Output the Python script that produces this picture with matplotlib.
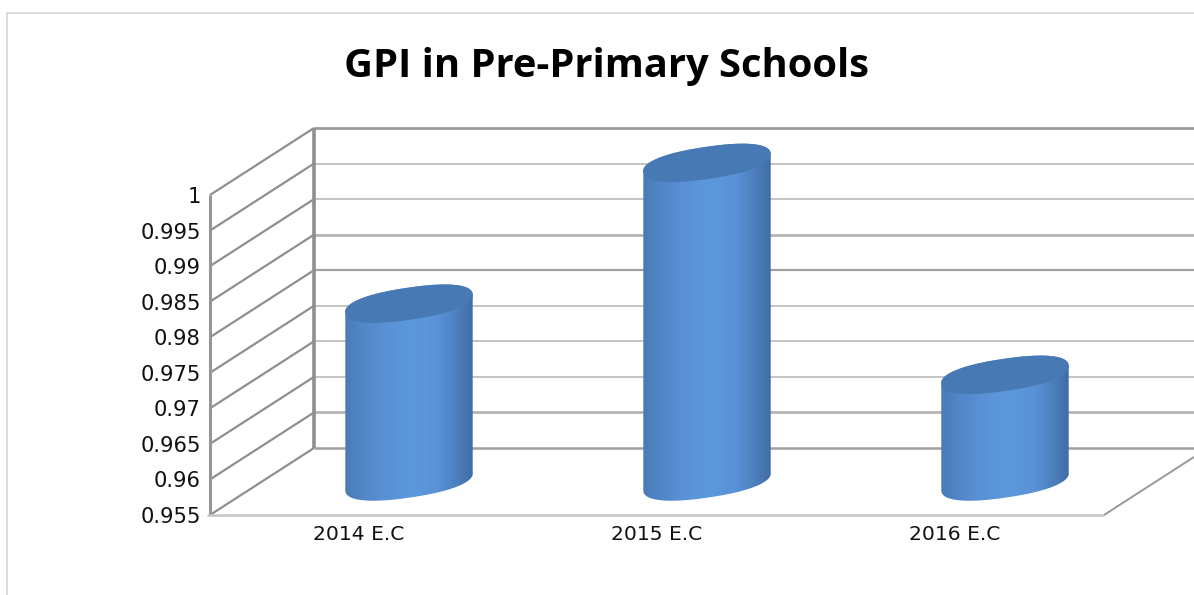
import numpy as np
import matplotlib
matplotlib.use("Agg")
import matplotlib.pyplot as plt
from matplotlib.colors import LinearSegmentedColormap
from matplotlib.lines import Line2D
from matplotlib.patches import PathPatch, Polygon, Rectangle
from matplotlib.path import Path
from matplotlib.transforms import IdentityTransform

categories = ["2014 E.C", "2015 E.C", "2016 E.C"]
values = [0.98, 0.9998, 0.97]
y_ticks = [0.955, 0.96, 0.965, 0.97, 0.975, 0.98, 0.985, 0.99, 0.995, 1.0]
y_labels = ["0.955", "0.96", "0.965", "0.97", "0.975", "0.98", "0.985", "0.99", "0.995", "1"]
title = "GPI in Pre-Primary Schools"

W, H = 1194, 595
DEPTH = (104, 67)
MID = (50, 33.5)
BAR_W = 128
ELL_B = 16.0
TILT = 8.5
SUPER = 0.86

fig = plt.figure(figsize=(W / 100, H / 100), dpi=100, facecolor="white")
ax = fig.add_axes([210 / W, (H - 515) / H, (1104 - 210) / W, 320 / H])
ax.set_xlim(-0.5, 2.5)
ax.set_ylim(y_ticks[0], y_ticks[-1])
ax.patch.set_visible(False)
for s in ax.spines.values():
    s.set_visible(False)
ax.set_yticks(y_ticks, y_labels)
ax.set_xticks(range(len(categories)), categories)
ax.tick_params(axis="y", length=0, pad=6.5, labelsize=15.2, labelcolor="#111111")
ax.tick_params(axis="x", length=0, pad=7.5, labelsize=14.6, labelcolor="#111111")
ax.set_autoscale_on(False)

ID = IdentityTransform()


def px(x, y):
    return ax.transData.transform((x, y))


def line(xs, ys, color, lw, z=1):
    ax.add_line(Line2D(xs, ys, color=color, lw=lw, transform=ID, clip_on=False,
                       zorder=z, solid_capstyle="butt"))


# outer chart border
fig.add_artist(Rectangle((7 / W, -0.01), 1.1, (H - 13) / H + 0.01, transform=fig.transFigure,
                         fc="none", ec="#dcdcdc", lw=1.4))

fig.text(607 / W, (H - 67) / H, title, ha="center", va="center", fontsize=28.7,
         fontweight="bold", family="Open Sans", color="black")

# walls and gridlines (index 0 is the bottom of the axis)
styles = {9: ("#999999", 2.0), 8: ("#c4c4c4", 1.4), 7: ("#c4c4c4", 1.4), 6: ("#b4b4b4", 2.0),
          5: ("#a0a0a0", 1.6), 4: ("#c4c4c4", 1.4), 3: ("#c4c4c4", 1.4), 2: ("#c4c4c4", 1.4),
          1: ("#b4b4b4", 2.0), 0: ("#a0a0a0", 1.8)}
x_left = px(-0.5, y_ticks[0])[0]
x_right = px(2.5, y_ticks[0])[0]
for i, v in enumerate(y_ticks):
    _, yy = px(-0.5, v)
    c, lw = styles[i]
    line([x_left + DEPTH[0], W + 5], [yy + DEPTH[1]] * 2, c, lw)
    line([x_left, x_left + DEPTH[0]], [yy, yy + DEPTH[1]], "#8f8f8f", 1.6)
yb = px(-0.5, y_ticks[0])[1]
yt = px(-0.5, y_ticks[-1])[1]
line([x_left, x_left], [yb, yt], "#969696", 2.2, 2)
line([x_left + DEPTH[0]] * 2, [yb + DEPTH[1], yt + DEPTH[1]], "#8f8f8f", 2.6, 2)
line([x_left - 3, x_right], [yb, yb], "#c4c4c4", 1.8, 2)
line([x_right, x_right + DEPTH[0]], [yb, yb + DEPTH[1]], "#999999", 1.4, 2)

# cylinder bars
cmap = LinearSegmentedColormap.from_list("cyl", [
    (0.00, "#4a79b3"), (0.12, "#4f85c4"), (0.30, "#5a90d4"), (0.52, "#5c98de"),
    (0.72, "#5a92d6"), (0.84, "#4f83c2"), (0.90, "#4a7ab6"), (1.00, "#3e6aa0")])
grad = np.linspace(0, 1, 256).reshape(1, -1)


def ell_points(cx, cy, t0, t1, n=80):
    a, b = BAR_W / 2 + 0.4, ELL_B
    th = np.radians(TILT)
    t = np.linspace(t0, t1, n)
    ex = a * np.sign(np.cos(t)) * np.abs(np.cos(t)) ** SUPER
    ey = b * np.sign(np.sin(t)) * np.abs(np.sin(t)) ** SUPER
    return cx + ex * np.cos(th) - ey * np.sin(th), cy + ex * np.sin(th) + ey * np.cos(th)


for i, v in enumerate(values):
    cx0, cy0 = px(i, y_ticks[0])
    cx, base = cx0 + MID[0], cy0 + MID[1]
    top = px(i, v)[1] + MID[1]
    xb, yb2 = ell_points(cx, base, np.pi, 2 * np.pi)
    xt, yt2 = ell_points(cx, top, 0, np.pi)
    verts = np.column_stack([np.r_[xb, xt], np.r_[yb2, yt2]])
    verts = np.vstack([verts, verts[0]])
    codes = [Path.MOVETO] + [Path.LINETO] * (len(verts) - 2) + [Path.CLOSEPOLY]
    clip = PathPatch(Path(verts, codes), transform=ID, fc="none", ec="none", clip_on=False)
    ax.add_patch(clip)
    im = ax.imshow(grad, cmap=cmap, aspect="auto", interpolation="bilinear", zorder=3,
                   extent=(cx - BAR_W / 2 - 2, cx + BAR_W / 2 + 2, base - 40, top + 40),
                   transform=ID)
    im.set_clip_box(fig.bbox)
    im.set_clip_path(clip)
    ex, ey = ell_points(cx, top, 0, 2 * np.pi, 160)
    ax.add_patch(Polygon(np.column_stack([ex, ey]), closed=True, transform=ID,
                         fc="#4779b5", ec="none", zorder=4, clip_on=False))

ax.set_xlim(-0.5, 2.5)
ax.set_ylim(y_ticks[0], y_ticks[-1])
fig.savefig("out.png", dpi=100, facecolor="white")
